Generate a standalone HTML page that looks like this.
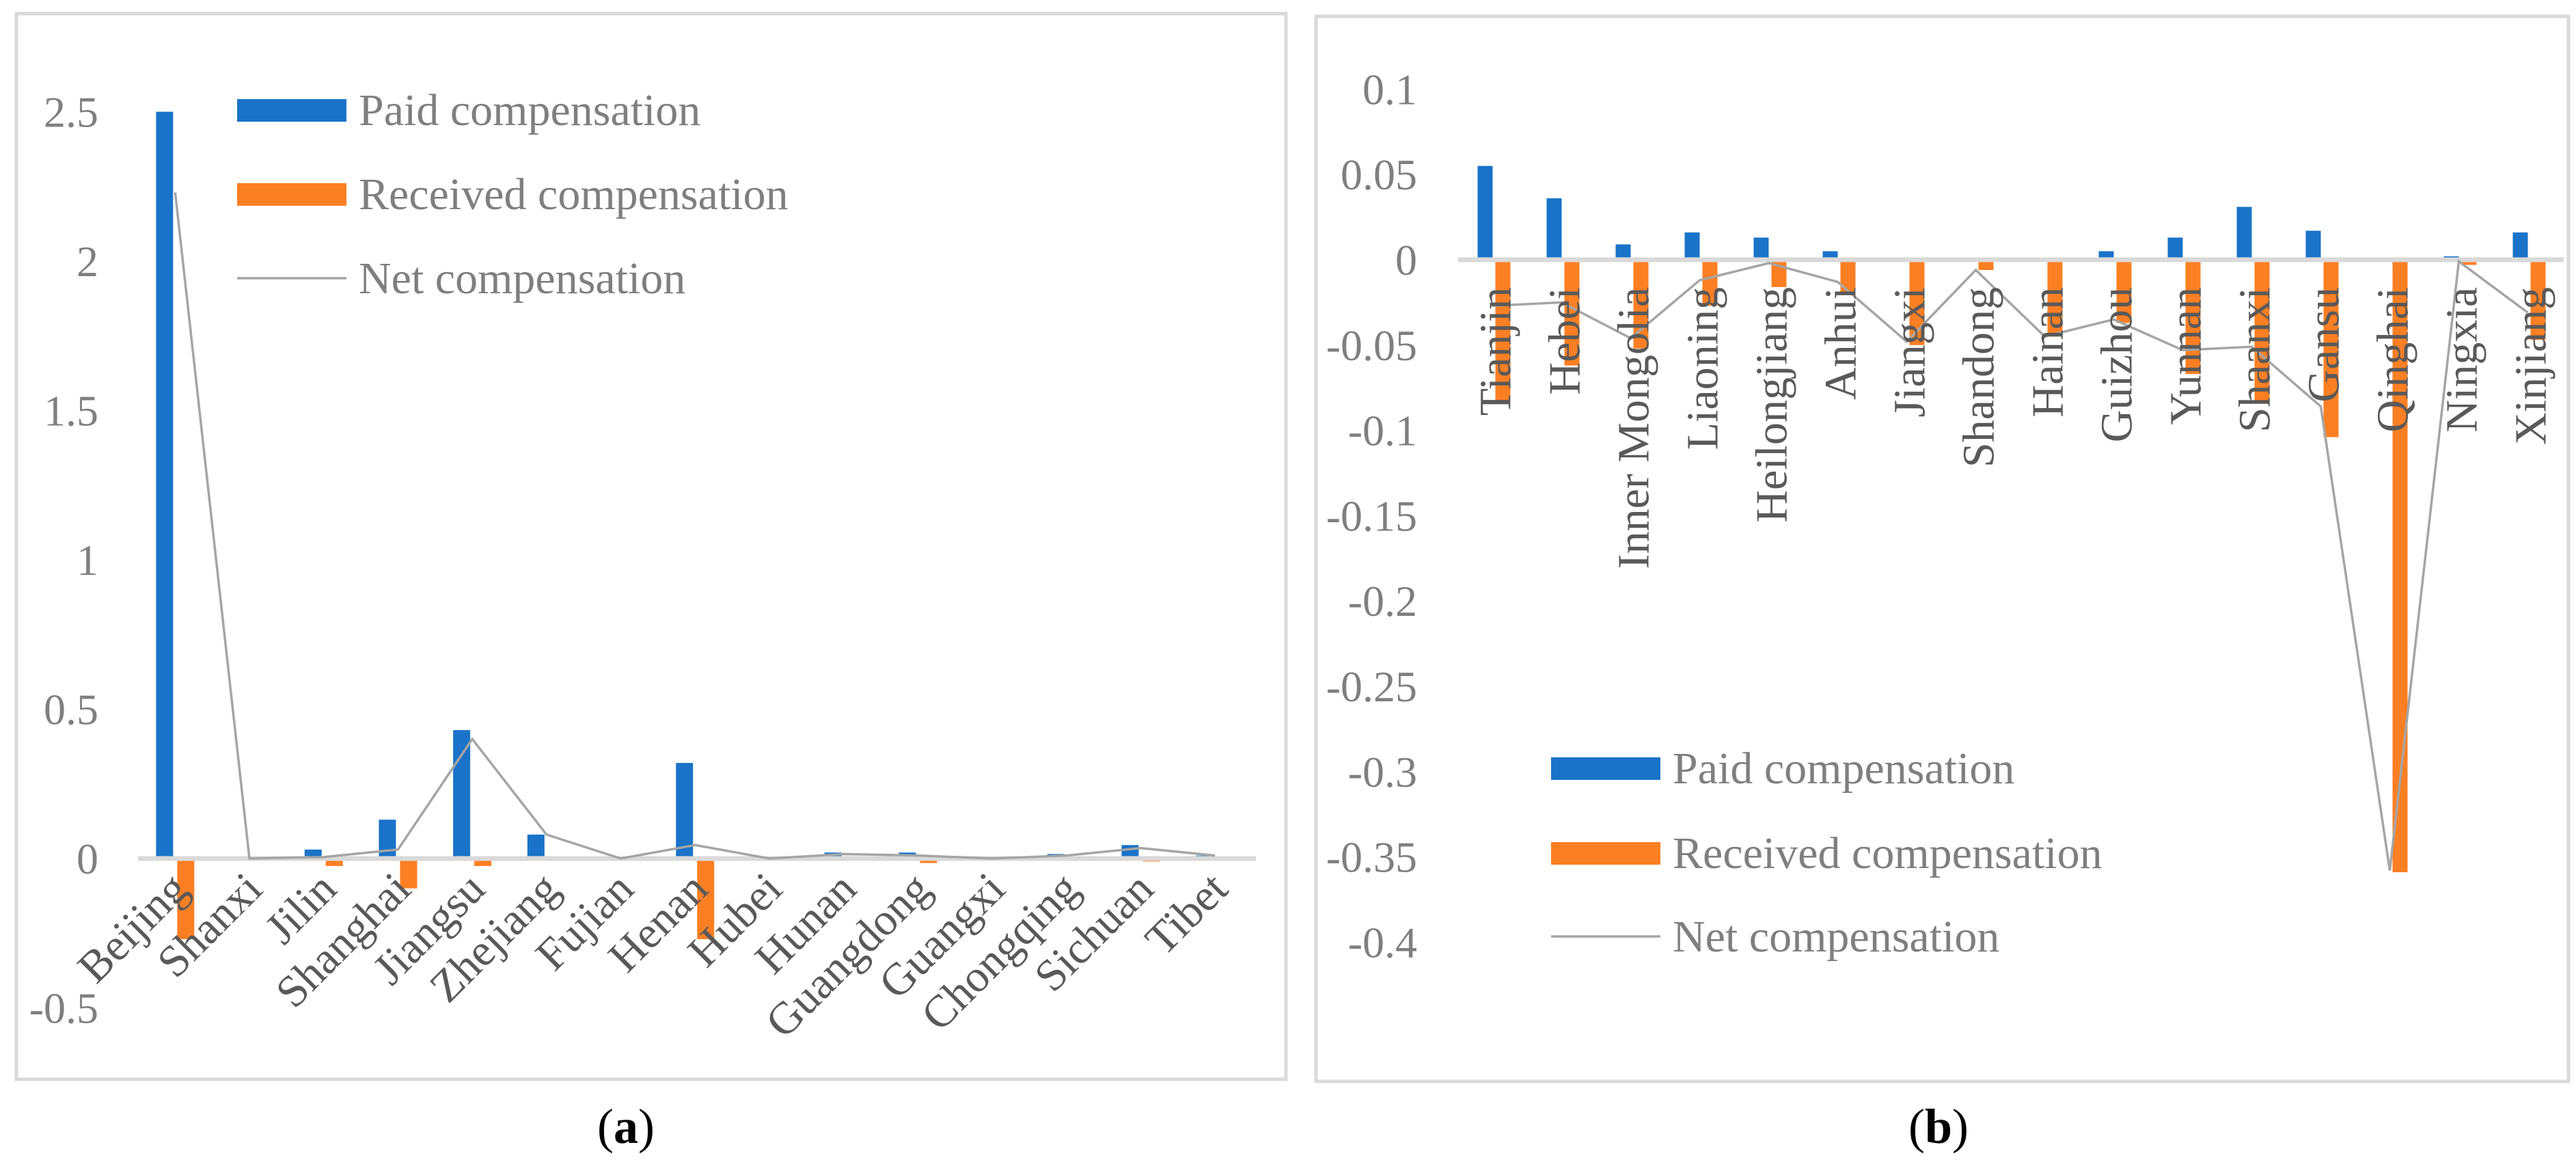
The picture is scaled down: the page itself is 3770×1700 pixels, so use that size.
<!DOCTYPE html>
<html><head><meta charset="utf-8"><style>
html,body{margin:0;padding:0;background:#fff;}
svg{display:block;font-family:"Liberation Serif",serif;}
</style></head><body>
<svg id="chart" width="3770" height="1700" viewBox="0 0 3770 1700">
<rect x="24" y="20" width="1858" height="1559" fill="#fff" stroke="#d9d9d9" stroke-width="5"/>
<rect x="1926" y="24" width="1833" height="1558" fill="#fff" stroke="#d9d9d9" stroke-width="5"/>
<g id="pa"></g>
<g id="pb"></g>
<text x="916" y="1672" font-size="72" text-anchor="middle" fill="#000">(<tspan font-weight="bold">a</tspan>)</text>
<text x="2837" y="1672" font-size="72" text-anchor="middle" fill="#000">(<tspan font-weight="bold">b</tspan>)</text>
</svg>
<script>
const catsA = ["Beijing","Shanxi","Jilin","Shanghai","Jiangsu","Zhejiang","Fujian","Henan","Hubei","Hunan","Guangdong","Guangxi","Chongqing","Sichuan","Tibet"];
const paidA = [2.5,0,0.03,0.13,0.43,0.08,0,0.32,0,0.02,0.02,0,0.015,0.045,0.01];
const recvA = [-0.27,0,-0.025,-0.1,-0.025,0,0,-0.27,0,0,-0.015,0,0,-0.01,0];
const netA = [2.23,0,0.005,0.03,0.40,0.08,0,0.045,0,0.015,0.01,0,0.01,0.035,0.01];
const ticksA = ["2.5","2","1.5","1","0.5","0","-0.5"];
const tickValsA = [2.5,2,1.5,1,0.5,0,-0.5];

const catsB = ["Tianjin","Hebei","Inner Mongolia","Liaoning","Heilongjiang","Anhui","Jiangxi","Shandong","Hainan","Guizhou","Yunnan","Shaanxi","Gansu","Qinghai","Ningxia","Xinjiang"];
const paidB = [0.055,0.036,0.009,0.016,0.013,0.005,0,0,0,0.005,0.013,0.031,0.017,0,0.002,0.016];
const recvB = [-0.083,-0.062,-0.052,-0.027,-0.016,-0.019,-0.05,-0.006,-0.045,-0.037,-0.067,-0.083,-0.104,-0.359,-0.003,-0.047];
const netB = [-0.027,-0.025,-0.046,-0.012,-0.002,-0.013,-0.048,-0.006,-0.045,-0.035,-0.053,-0.051,-0.086,-0.358,-0.001,-0.031];
const ticksB = ["0.1","0.05","0","-0.05","-0.1","-0.15","-0.2","-0.25","-0.3","-0.35","-0.4"];
const tickValsB = [0.1,0.05,0,-0.05,-0.1,-0.15,-0.2,-0.25,-0.3,-0.35,-0.4];

const NS="http://www.w3.org/2000/svg";
function mk(tag,attrs,parent){const e=document.createElementNS(NS,tag);for(const k in attrs)e.setAttribute(k,attrs[k]);parent.appendChild(e);return e;}

function draw(g,cfg){
  const y=v=>cfg.y0-v*cfg.unit;
  const cx=i=>cfg.left+cfg.cw*(i+0.5);
  cfg.tickVals.forEach((v,i)=>{
    const t=mk('text',{x:cfg.tickX,y:y(v)+22,'font-size':64,'text-anchor':'end',fill:'#7f7f7f'},g);
    
    
    t.textContent=cfg.ticks[i];
  });
  cfg.paid.forEach((v,i)=>{
    const r=mk('rect',{x:cx(i)+cfg.pOff,y:Math.min(y(v),cfg.y0),width:cfg.bw,height:Math.abs(y(v)-cfg.y0),fill:'#1a73c8'},g);
    
    
  });
  cfg.recv.forEach((v,i)=>{
    const r=mk('rect',{x:cx(i)+cfg.rOff,y:Math.min(y(v),cfg.y0),width:cfg.bw,height:Math.abs(y(v)-cfg.y0),fill:'#fd7f23'},g);
    
    
  });
  const ax=mk('line',{x1:cfg.left,x2:cfg.right,y1:cfg.y0,y2:cfg.y0,stroke:'#d9d9d9','stroke-width':7},g);
  
  
  const pts=cfg.net.map((v,i)=>cx(i)+','+y(v)).join(' ');
  const pl=mk('polyline',{points:pts,fill:'none',stroke:'#a5a5a5','stroke-width':3.5},g);
  
  
  cfg.cats.forEach((c,i)=>{
    let t;
    if(cfg.rot===-45){
      const ax0=cx(i)+22, ay0=cfg.y0+48;
      t=mk('text',{x:ax0,y:ay0,'font-size':66,'text-anchor':'end',fill:'#595959',transform:`rotate(-45 ${ax0} ${ay0})`},g);
    } else {
      const ax0=cx(i)+26, ay0=cfg.y0+40;
      t=mk('text',{x:ax0,y:ay0,'font-size':66,'text-anchor':'end',fill:'#595959',transform:`rotate(-90 ${ax0} ${ay0})`},g);
    }
    
    
    t.textContent=c;
  });
  const lg=mk('g',{},g);
  
  
  const items=[['Paid compensation','#1a73c8','bar'],['Received compensation','#fd7f23','bar'],['Net compensation','#a5a5a5','line']];
  items.forEach((it,k)=>{
    const yc=cfg.legY[k];
    let s;
    if(it[2]==='bar') s=mk('rect',{x:cfg.legX,y:yc-16,width:160,height:33,fill:it[1]},lg);
    else s=mk('line',{x1:cfg.legX,x2:cfg.legX+160,y1:yc,y2:yc,stroke:it[1],'stroke-width':3.5},lg);
    
    
    const t=mk('text',{x:cfg.legX+178,y:yc+22,'font-size':66,fill:'#7f7f7f'},lg);
    
    
    t.textContent=it[0];
  });
}
draw(document.getElementById('pa'),{y0:1256,unit:437,left:202,right:1838,cw:108.7,bw:25,pOff:-28,rOff:3,tickX:144,
  cats:catsA,paid:paidA,recv:recvA,net:netA,ticks:ticksA,tickVals:tickValsA,rot:-45,legX:347,legY:[161,284,407]});
draw(document.getElementById('pb'),{y0:380,unit:2496,left:2134,right:3752,cw:101,bw:22,pOff:-22,rOff:4,tickX:2074,
  cats:catsB,paid:paidB,recv:recvB,net:netB,ticks:ticksB,tickVals:tickValsB,rot:-90,legX:2270,legY:[1124,1248,1370]});
</script>
</body></html>
